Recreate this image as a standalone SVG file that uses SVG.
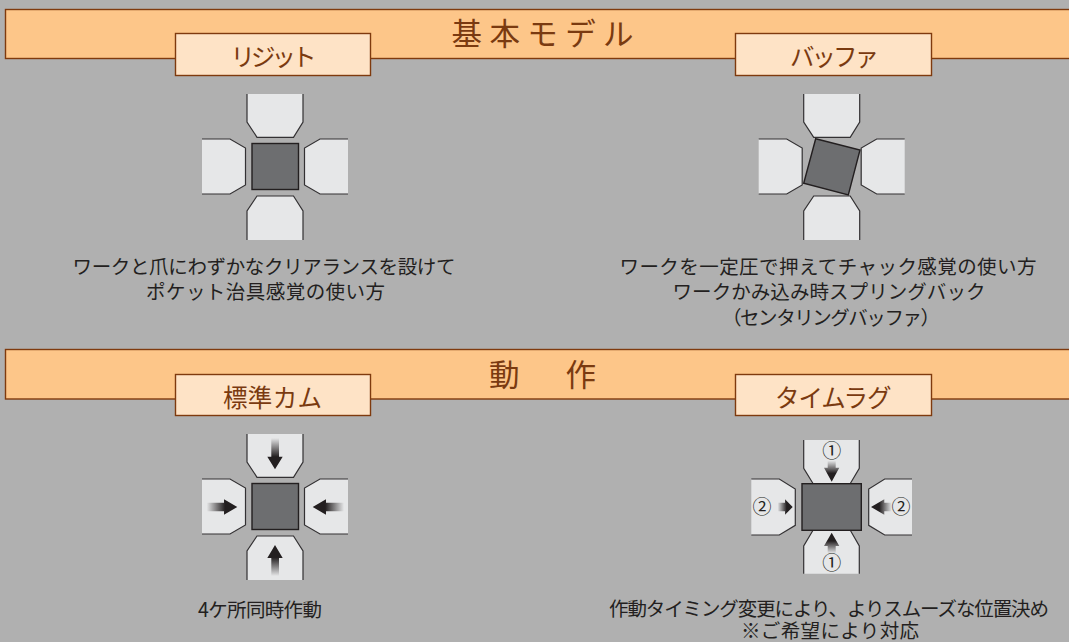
<svg xmlns="http://www.w3.org/2000/svg" width="1069" height="642" viewBox="0 0 1069 642">
<style>
.band{fill:#fdc689;stroke:#7f3a0e;stroke-width:1.4}
.tab{fill:#fee3c6;stroke:#7f3a0e;stroke-width:1.4}
.title{font-family:"Noto Sans CJK JP","Noto Sans",sans-serif;font-size:30.5px;fill:#7a3a10}
.tabt{font-family:"Noto Sans CJK JP","Noto Sans",sans-serif;font-size:24.5px;fill:#7a3a10}
.cap{font-family:"Noto Sans CJK JP","Noto Sans",sans-serif;font-size:19.5px;fill:#231f20}
.num{font-family:"Noto Sans CJK JP","Noto Sans",sans-serif;font-size:19px;fill:#231f20;text-anchor:middle}
.jaw{fill:#e6e7e8;stroke:none}
.edge{fill:none;stroke:#333133;stroke-width:1.2}
.work{fill:#6d6e70;stroke:#231f20;stroke-width:1.4}
</style>
<defs>
<linearGradient id="gd" x1="0" y1="0" x2="0" y2="1"><stop offset="0" stop-color="#231f20" stop-opacity="0"/><stop offset=".6" stop-color="#231f20"/></linearGradient>
<linearGradient id="gu" x1="0" y1="1" x2="0" y2="0"><stop offset="0" stop-color="#231f20" stop-opacity="0"/><stop offset=".6" stop-color="#231f20"/></linearGradient>
<linearGradient id="gr" x1="0" y1="0" x2="1" y2="0"><stop offset="0" stop-color="#231f20" stop-opacity="0"/><stop offset=".6" stop-color="#231f20"/></linearGradient>
<linearGradient id="gl" x1="1" y1="0" x2="0" y2="0"><stop offset="0" stop-color="#231f20" stop-opacity="0"/><stop offset=".6" stop-color="#231f20"/></linearGradient>
<g id="jaws">
<path class="jaw" d="M247 94V122L257 137.3H293.5L303 122V94Z"/><path class="edge" d="M247 94V122L257 137.3H293.5L303 122V94"/>
<path class="jaw" d="M202 139H230L245.5 148V185L230 194H202Z"/><path class="edge" d="M202 139H230L245.5 148V185L230 194H202"/>
<path class="jaw" d="M348 139H320L304.5 148V185L320 194H348Z"/><path class="edge" d="M348 139H320L304.5 148V185L320 194H348"/>
<path class="jaw" d="M247 240V211L257 196H293.5L303 211V240Z"/><path class="edge" d="M247 240V211L257 196H293.5L303 211V240"/>
</g>
</defs>
<rect width="1069" height="642" fill="#b0b0b0"/>

<g id="header-basic">
<rect class="band" x="5.5" y="9.5" width="1070" height="49"/>
<text class="title" x="451.5" y="45" textLength="182" lengthAdjust="spacing">基本モデル</text>
</g>
<g id="tab-rigid"><rect class="tab" x="175.5" y="33.5" width="195" height="42"/><text class="tabt" x="230.5" y="66" textLength="86" lengthAdjust="spacing">リジット</text></g>
<g id="tab-buffer"><rect class="tab" x="735.5" y="33.5" width="196" height="42"/><text class="tabt" x="790" y="66" textLength="89" lengthAdjust="spacing">バッファ</text></g>

<g id="rigid-model">
<use href="#jaws"/>
<rect class="work" x="252" y="143.5" width="46.5" height="46"/>
</g>
<g id="buffer-model">
<use href="#jaws" x="556.7"/>
<path class="work" d="M815.7 138.7L860 150L848.3 195L803.7 183.3Z"/>
</g>
<g id="rigid-caption">
<text class="cap" x="72.5" y="274" textLength="383" lengthAdjust="spacing">ワークと爪にわずかなクリアランスを設けて</text>
<text class="cap" x="146" y="299" textLength="239" lengthAdjust="spacing">ポケット治具感覚の使い方</text>
</g>
<g id="buffer-caption">
<text class="cap" x="619.5" y="274" textLength="417" lengthAdjust="spacing">ワークを一定圧で押えてチャック感覚の使い方</text>
<text class="cap" x="672.5" y="299" textLength="313" lengthAdjust="spacing">ワークかみ込み時スプリングバック</text>
<text class="cap" x="722" y="325" textLength="218" lengthAdjust="spacing">（センタリングバッファ）</text>
</g>

<g id="header-motion">
<rect class="band" x="5.5" y="349.5" width="1070" height="49.5"/>
<text class="title" x="489" y="386" textLength="107" lengthAdjust="spacing">動　作</text>
</g>
<g id="tab-cam"><rect class="tab" x="175.5" y="374.5" width="195" height="41"/><text class="tabt" x="223" y="407" textLength="99" lengthAdjust="spacing">標準カム</text></g>
<g id="tab-lag"><rect class="tab" x="735.5" y="374.5" width="196" height="41"/><text class="tabt" x="775" y="407" textLength="116.5" lengthAdjust="spacing">タイムラグ</text></g>

<g id="cam-model">
<use href="#jaws" y="340"/>
<rect class="work" x="252" y="483.5" width="46.5" height="46"/>
<path fill="url(#gd)" d="M271.3 438H279V456.7H282.7L275 469.3L267.3 456.7H271.3Z"/>
<path fill="url(#gu)" d="M271.3 576H279V558H282.7L275 545L267.3 558H271.3Z"/>
<path fill="url(#gr)" d="M206.7 502.7H224V499.3L237.3 507L224 514.7V511.3H206.7Z"/>
<path fill="url(#gl)" d="M344 502.7H326V499.3L312.7 507L326 514.7V511.3H344Z"/>
</g>
<g id="lag-model">
<path class="jaw" d="M803.7 440V468.3L813 483.5H850.3L859.3 468.3V440Z"/><path class="edge" d="M803.7 440V468.3L813 483.5H850.3L859.3 468.3V440"/>
<path class="jaw" d="M803.7 573.7V546L813 530.3H850.3L859.3 546V573.7Z"/><path class="edge" d="M803.7 573.7V546L813 530.3H850.3L859.3 546V573.7"/>
<path class="jaw" d="M751.3 479H779.3L795.3 489V525.3L779.3 535H751.3Z"/><path class="edge" d="M751.3 479H779.3L795.3 489V525.3L779.3 535H751.3"/>
<path class="jaw" d="M912 479H884.7L868.7 489V525.3L884.7 535H912Z"/><path class="edge" d="M912 479H884.7L868.7 489V525.3L884.7 535H912"/>
<rect class="work" x="802" y="483.7" width="59.3" height="46.6"/>
<path fill="url(#gd)" d="M827.7 460.7H835.7V467.7H839.3L831.7 481.7L824 467.7H827.7Z"/>
<path fill="url(#gu)" d="M827.7 553.3H835.7V546H839.3L831.7 532.7L824 546H827.7Z"/>
<path fill="url(#gr)" d="M777.7 502.7H785V499.3L792.7 507L785 514.7V511.3H777.7Z"/>
<path fill="url(#gl)" d="M891.7 502.7H884.3V499.3L871 507L884.3 514.7V511.3H891.7Z"/>
<text class="num" x="831.7" y="457.5">①</text>
<text class="num" x="831.7" y="569.5">①</text>
<text class="num" x="762" y="513.5">②</text>
<text class="num" x="901" y="513.5">②</text>
</g>
<g id="cam-caption"><text class="cap" x="198" y="617" textLength="124" lengthAdjust="spacing">4ケ所同時作動</text></g>
<g id="lag-caption">
<text class="cap" x="609" y="616" textLength="440" lengthAdjust="spacing">作動タイミング変更により、よりスムーズな位置決め</text>
<text class="cap" x="741" y="637.5" textLength="178" lengthAdjust="spacing">※ご希望により対応</text>
</g>
</svg>
